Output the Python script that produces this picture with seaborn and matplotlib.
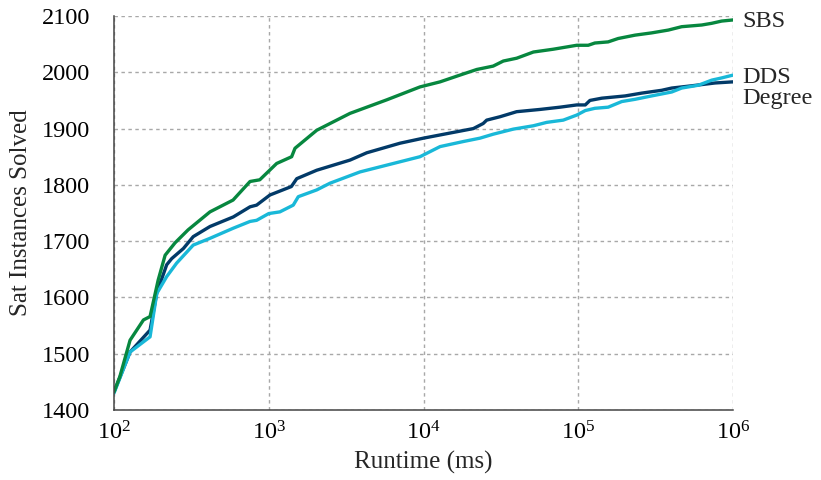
import numpy as np
import pandas as pd
import matplotlib
matplotlib.use("Agg")
import matplotlib.pyplot as plt
import seaborn as sns

# ---- data ----
sbs_runtime = [100, 109, 127, 155, 171, 193, 214, 248, 301, 417, 588, 757, 875, 1125, 1406,
               1478, 2042, 3350, 5780, 9490, 12800, 17200, 22100, 28200, 32800, 40000,
               51300, 69000, 97800, 116000, 128000, 156000, 181000, 233000, 298000,
               382000, 466000, 628000, 728000, 845000, 1000000]
sbs_solved = [1432, 1459, 1524, 1560, 1566, 1631, 1675, 1697, 1720, 1752, 1773, 1806, 1809,
              1838, 1850, 1865, 1897, 1927, 1951, 1974, 1983, 1995, 2005, 2011, 2020, 2025,
              2036, 2041, 2048, 2048, 2052, 2054, 2060, 2066, 2070, 2075, 2081, 2084, 2087,
              2091, 2093]

degree_runtime = [100, 127, 171, 189, 219, 236, 281, 325, 417, 590, 757, 835, 1018, 1400,
                  1517, 2042, 3350, 4300, 7050, 10000, 14800, 21000, 24300, 25600, 31200,
                  40000, 56600, 76200, 97800, 111000, 119000, 142000, 201000, 257000,
                  346000, 402000, 541000, 765000, 1000000]
degree_solved = [1432, 1503, 1542, 1608, 1658, 1669, 1687, 1708, 1726, 1743, 1761, 1764,
                 1782, 1797, 1811, 1826, 1844, 1857, 1874, 1883, 1892, 1900, 1909, 1915,
                 1921, 1930, 1934, 1938, 1942, 1942, 1950, 1954, 1958, 1963, 1968, 1972,
                 1976, 1981, 1983]

dds_runtime = [100, 127, 171, 189, 219, 254, 325, 417, 590, 757, 835, 1000, 1180, 1440,
               1552, 2042, 2490, 3890, 7050, 9490, 12800, 18100, 23200, 28200, 38000,
               51300, 62500, 80000, 97800, 111000, 128000, 156000, 191000, 233000,
               298000, 402000, 466000, 597000, 728000, 845000, 1000000]
dds_solved = [1430, 1503, 1530, 1607, 1637, 1661, 1693, 1705, 1723, 1735, 1737, 1749, 1752,
              1764, 1779, 1791, 1803, 1823, 1841, 1850, 1868, 1877, 1883, 1890, 1899, 1905,
              1911, 1915, 1924, 1932, 1936, 1938, 1948, 1952, 1958, 1965, 1972, 1977, 1986,
              1990, 1995]

series_names = ["SBS", "DDS", "Degree"]
label_baseline = {"SBS": 2081, "DDS": 1981, "Degree": 1943}
colors = {"SBS": "#07873F", "DDS": "#19B8D8", "Degree": "#023A68"}

xticks = [1e2, 1e3, 1e4, 1e5, 1e6]
yticks = [1400, 1500, 1600, 1700, 1800, 1900, 2000, 2100]

df = pd.concat([
    pd.DataFrame({"Runtime": sbs_runtime, "Solved": sbs_solved, "Solver": "SBS"}),
    pd.DataFrame({"Runtime": dds_runtime, "Solved": dds_solved, "Solver": "DDS"}),
    pd.DataFrame({"Runtime": degree_runtime, "Solved": degree_solved, "Solver": "Degree"}),
], ignore_index=True)

sns.set_style("white")
plt.rcParams["font.family"] = ["Liberation Serif", "DejaVu Serif"]
plt.rcParams["mathtext.fontset"] = "custom"
plt.rcParams["mathtext.rm"] = "Liberation Serif"
plt.rcParams["mathtext.it"] = "Liberation Serif:italic"
plt.rcParams["mathtext.bf"] = "Liberation Serif:bold"

fig = plt.figure(figsize=(8.21, 4.80), dpi=100)
ax = fig.add_axes([114 / 821, 1 - 410 / 480, (733 - 114) / 821, (410 - 16) / 480])

sns.lineplot(data=df, x="Runtime", y="Solved", hue="Solver", palette=colors,
             hue_order=["Degree", "DDS", "SBS"], linewidth=2.4, legend=False,
             ax=ax, estimator=None, sort=True)

ax.set_xscale("log")
ax.set_xlim(1e2, 1e6)
ax.set_ylim(1400, 2100)
ax.set_xticks(xticks)
ax.set_yticks(yticks)

ax.grid(True, which="major", color="#a8a8a8", linestyle=(0, (2.5, 2.5)), linewidth=1.0)
ax.set_axisbelow(True)
for s in ["top", "right"]:
    ax.spines[s].set_visible(False)
for s in ["left", "bottom"]:
    ax.spines[s].set_color("#444444")
    ax.spines[s].set_linewidth(1.1)

ax.tick_params(axis="both", which="major", direction="in", length=5.5, width=1,
               color="#444444", labelsize=17.5, labelcolor="black")
ax.tick_params(axis="y", which="major", pad=17)
ax.tick_params(axis="x", which="major", pad=8)
ax.tick_params(axis="x", which="minor", direction="in", length=5, width=0.9, color="#444444")
ax.tick_params(axis="y", which="minor", left=False)

ax.set_xlabel("Runtime (ms)", fontsize=18)
ax.set_ylabel("Sat Instances Solved", fontsize=18)
ax.xaxis.set_label_coords(0.5, -0.105)
ax.yaxis.set_label_coords(-0.132, 0.5)

for name in series_names:
    ax.text(1.156e6, label_baseline[name], name, fontsize=17.5, ha="left", va="baseline",
            clip_on=False)

fig.savefig("out.png", dpi=100)
